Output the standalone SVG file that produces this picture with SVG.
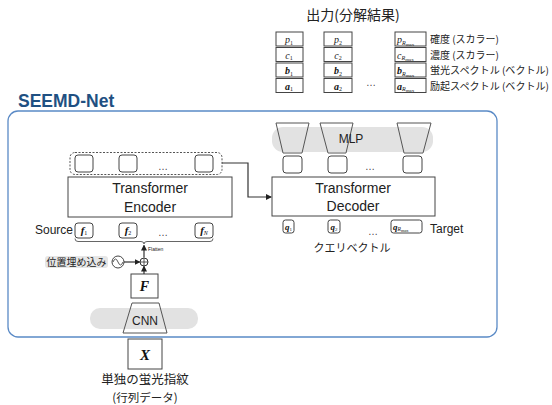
<svg xmlns="http://www.w3.org/2000/svg" width="552" height="405" viewBox="0 0 552 405">
<defs>
<style>
.bx{fill:#fff;stroke:#444;stroke-width:1}
.rb{fill:#fff;stroke:#444;stroke-width:1}
.band{fill:#e2e2e2}
.trap{fill:none;stroke:#555;stroke-width:1}
.ln{fill:none;stroke:#333;stroke-width:1.2}
.lat{font-family:"Liberation Sans","Open Sans",sans-serif;fill:#222}
.jp{font-family:"Noto Sans CJK JP","Noto Sans",sans-serif;fill:#222}
.m{font-family:"Liberation Serif","DejaVu Serif",serif;font-style:italic;fill:#222}
.mb{font-family:"Liberation Serif","DejaVu Serif",serif;font-style:italic;font-weight:bold;fill:#111}
.dots{font-family:"Liberation Sans",sans-serif;font-size:10px;fill:#444}
</style>
<marker id="ah" viewBox="0 0 6 6" refX="5" refY="3" markerWidth="5" markerHeight="5" orient="auto">
<path d="M0,0 L6,3 L0,6 Z" fill="#222"/>
</marker>
</defs>
<rect width="552" height="405" fill="#fff"/>

<!-- Output -->
<g id="output">
<text class="jp" x="353" y="20" font-size="14" text-anchor="middle">出力(分解結果)</text>
<rect class="bx" x="276" y="32" width="27" height="14"/>
<rect class="bx" x="276" y="47.5" width="27" height="14"/>
<rect class="bx" x="276" y="63" width="27" height="14"/>
<rect class="bx" x="276" y="78.5" width="27" height="14"/>
<rect class="bx" x="324" y="32" width="28" height="14"/>
<rect class="bx" x="324" y="47.5" width="28" height="14"/>
<rect class="bx" x="324" y="63" width="28" height="14"/>
<rect class="bx" x="324" y="78.5" width="28" height="14"/>
<rect class="bx" x="395" y="32" width="31" height="14"/>
<rect class="bx" x="395" y="47.5" width="31" height="14"/>
<rect class="bx" x="395" y="63" width="31" height="14"/>
<rect class="bx" x="395" y="78.5" width="31" height="14"/>
<text class="m" x="289" y="43" font-size="10" text-anchor="middle">p<tspan font-size="6" font-style="normal" dy="1.5">1</tspan></text>
<text class="m" x="289" y="58.5" font-size="10" text-anchor="middle">c<tspan font-size="6" font-style="normal" dy="1.5">1</tspan></text>
<text class="mb" x="289" y="74" font-size="10" text-anchor="middle">b<tspan font-size="6" font-weight="normal" font-style="normal" dy="1.5">1</tspan></text>
<text class="mb" x="289" y="89.5" font-size="10" text-anchor="middle">a<tspan font-size="6" font-weight="normal" font-style="normal" dy="1.5">1</tspan></text>
<text class="m" x="338" y="43" font-size="10" text-anchor="middle">p<tspan font-size="6" font-style="normal" dy="1.5">2</tspan></text>
<text class="m" x="338" y="58.5" font-size="10" text-anchor="middle">c<tspan font-size="6" font-style="normal" dy="1.5">2</tspan></text>
<text class="mb" x="338" y="74" font-size="10" text-anchor="middle">b<tspan font-size="6" font-weight="normal" font-style="normal" dy="1.5">2</tspan></text>
<text class="mb" x="338" y="89.5" font-size="10" text-anchor="middle">a<tspan font-size="6" font-weight="normal" font-style="normal" dy="1.5">2</tspan></text>
<text class="m" x="397" y="43" font-size="10">p<tspan font-size="6" dy="1.5">R</tspan><tspan font-size="5" font-style="normal" dy="1">max</tspan></text>
<text class="m" x="397" y="58.5" font-size="10">c<tspan font-size="6" dy="1.5">R</tspan><tspan font-size="5" font-style="normal" dy="1">max</tspan></text>
<text class="mb" x="397" y="74" font-size="10">b<tspan font-size="6" font-weight="normal" dy="1.5">R</tspan><tspan font-size="5" font-weight="normal" font-style="normal" dy="1">max</tspan></text>
<text class="mb" x="397" y="89.5" font-size="10">a<tspan font-size="6" font-weight="normal" dy="1.5">R</tspan><tspan font-size="5" font-weight="normal" font-style="normal" dy="1">max</tspan></text>
<text class="dots" x="371" y="86" text-anchor="middle">…</text>
<text class="jp" x="430" y="43" font-size="10">確度 (スカラー)</text>
<text class="jp" x="430" y="58.5" font-size="10">濃度 (スカラー)</text>
<text class="jp" x="430" y="74" font-size="10" textLength="119" lengthAdjust="spacingAndGlyphs">蛍光スペクトル (ベクトル)</text>
<text class="jp" x="430" y="89.5" font-size="10" textLength="119" lengthAdjust="spacingAndGlyphs">励起スペクトル (ベクトル)</text>
</g>

<!-- SEEMD-Net container -->
<g id="seemd-net">
<rect x="8" y="111" width="489" height="226" rx="10" fill="none" stroke="#5a8ac6" stroke-width="1.3"/>
<text x="18" y="107" font-family="'Liberation Sans',sans-serif" font-size="17.5" font-weight="bold" fill="#1f5082">SEEMD-Net</text>
</g>

<!-- MLP -->
<g id="mlp">
<rect class="band" x="272" y="127" width="161" height="25" rx="11"/>
<path class="trap" d="M276,123 L309,123 L302,153 L283,153 Z"/>
<path class="trap" d="M320,123 L353,123 L346,153 L328,153 Z"/>
<path class="trap" d="M397,123 L431,123 L423,153 L404,153 Z"/>
<text class="lat" x="351" y="143" font-size="12" text-anchor="middle">MLP</text>
</g>

<!-- Decoder outputs -->
<g id="decoder-out">
<rect class="rb" x="283" y="156" width="19" height="17" rx="3"/>
<rect class="rb" x="328" y="156" width="19" height="17" rx="3"/>
<rect class="rb" x="403" y="156" width="19" height="17" rx="3"/>
<text class="dots" x="370" y="170" text-anchor="middle">…</text>
</g>

<!-- Decoder -->
<g id="decoder">
<rect class="bx" x="272" y="177" width="163" height="39"/>
<text class="lat" x="353" y="193" font-size="14" text-anchor="middle">Transformer</text>
<text class="lat" x="353" y="211" font-size="14" text-anchor="middle">Decoder</text>
</g>

<!-- Queries -->
<g id="queries">
<rect class="rb" x="283" y="220" width="11" height="13" rx="2.5"/>
<rect class="rb" x="328" y="220" width="12" height="13" rx="2.5"/>
<rect class="rb" x="391" y="220" width="31" height="13" rx="2.5"/>
<text class="mb" x="288.5" y="230" font-size="9" text-anchor="middle">q<tspan font-size="5" font-weight="normal" font-style="normal" dy="1">1</tspan></text>
<text class="mb" x="334" y="230" font-size="9" text-anchor="middle">q<tspan font-size="5" font-weight="normal" font-style="normal" dy="1">2</tspan></text>
<text class="mb" x="393" y="230" font-size="9">q<tspan font-size="5.5" font-weight="normal" dy="1">R</tspan><tspan font-size="4.5" font-weight="normal" font-style="normal" dy="1">max</tspan></text>
<text class="dots" x="373" y="235" text-anchor="middle">…</text>
<text class="lat" x="430" y="233" font-size="12">Target</text>
<text class="jp" x="352" y="252" font-size="11" text-anchor="middle">クエリベクトル</text>
</g>

<!-- Encoder outputs -->
<g id="encoder-out">
<rect x="70" y="152.5" width="152" height="22" rx="5" fill="none" stroke="#555" stroke-width="1" stroke-dasharray="2,1.5"/>
<rect class="rb" x="75" y="155" width="18" height="17" rx="3"/>
<rect class="rb" x="119" y="155" width="18" height="17" rx="3"/>
<rect class="rb" x="195" y="155" width="18" height="17" rx="3"/>
<text class="dots" x="163" y="170" text-anchor="middle">…</text>
</g>

<!-- Encoder -->
<g id="encoder">
<rect class="bx" x="68" y="177" width="164" height="40"/>
<text class="lat" x="150" y="193" font-size="14" text-anchor="middle">Transformer</text>
<text class="lat" x="150" y="212" font-size="14" text-anchor="middle">Encoder</text>
</g>

<!-- Source -->
<g id="source">
<text class="lat" x="73" y="234" font-size="12" text-anchor="end">Source</text>
<rect class="rb" x="75" y="223" width="18" height="15" rx="3"/>
<rect class="rb" x="119" y="223" width="18" height="15" rx="3"/>
<rect class="rb" x="195" y="223" width="18" height="15" rx="3"/>
<text class="mb" x="84" y="234" font-size="11" text-anchor="middle">f<tspan font-size="6" font-weight="normal" font-style="normal" dy="1">1</tspan></text>
<text class="mb" x="128" y="234" font-size="11" text-anchor="middle">f<tspan font-size="6" font-weight="normal" font-style="normal" dy="1">2</tspan></text>
<text class="mb" x="204" y="234" font-size="11" text-anchor="middle">f<tspan font-size="6" font-weight="normal" dy="1">N</tspan></text>
<text class="dots" x="163" y="236" text-anchor="middle">…</text>
<path d="M75,238.5 Q75,241.5 78,241.5 L141,241.5 Q144,241.5 144,244 Q144,241.5 147,241.5 L210,241.5 Q213,241.5 213,238.5" fill="none" stroke="#555" stroke-width="0.9"/>
<text class="lat" x="148" y="251" font-size="5" fill="#555">Flatten</text>
</g>

<!-- Positional encoding -->
<g id="pos-enc">
<rect x="45" y="256" width="63" height="12" rx="3" fill="#e6e6e6"/>
<text class="jp" x="76.5" y="265.5" font-size="10" text-anchor="middle">位置埋め込み</text>
<circle cx="118" cy="262" r="6" fill="#fff" stroke="#444" stroke-width="1"/>
<path d="M113,262 Q115.5,256 118,262 Q120.5,268 123,262" fill="none" stroke="#444" stroke-width="0.9"/>
</g>

<g id="add">
<circle cx="144" cy="262" r="4" fill="#fff" stroke="#333" stroke-width="1"/>
<path d="M140,262 L148,262 M144,258 L144,266" stroke="#333" stroke-width="0.8"/>
</g>

<!-- F -->
<g id="feature-map">
<rect class="bx" x="131" y="274" width="27" height="24"/>
<text class="mb" x="144.5" y="291" font-size="14" text-anchor="middle">F</text>
</g>

<!-- CNN -->
<g id="cnn">
<rect class="band" x="90" y="308" width="108" height="21" rx="10"/>
<path class="trap" d="M132,303 L159,303 L167,333 L123,333 Z"/>
<text class="lat" x="145" y="325" font-size="12" text-anchor="middle">CNN</text>
</g>

<!-- Input -->
<g id="input">
<rect class="bx" x="128" y="339" width="34" height="30"/>
<text class="mb" x="145" y="360" font-size="15" text-anchor="middle">X</text>
<text class="jp" x="145" y="384" font-size="12.5" text-anchor="middle">単独の蛍光指紋</text>
<text class="jp" x="145" y="401.5" font-size="11.5" text-anchor="middle">(行列データ)</text>
</g>

<!-- Connectors -->
<g id="connectors">
<path class="ln" d="M222,163 L248,163 L248,197 L271,197" marker-end="url(#ah)"/>
<path class="ln" d="M144,257.5 L144,245.5" marker-end="url(#ah)" stroke-width="1"/>
<path class="ln" d="M124,262 L139.5,262" marker-end="url(#ah)" stroke-width="1"/>
<path class="ln" d="M144,274 L144,266.5" marker-end="url(#ah)" stroke-width="1"/>
</g>
</svg>
